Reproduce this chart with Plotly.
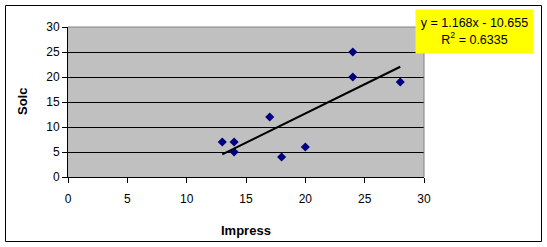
import numpy as np
import plotly.graph_objects as go

impress = [13, 14, 14, 17, 18, 20, 24, 24, 28]
solc = [7, 7, 5, 12, 4, 6, 25, 20, 19]
x_ticks = [0, 5, 10, 15, 20, 25, 30]
y_ticks = [0, 5, 10, 15, 20, 25, 30]

xa = np.array(impress, dtype=float)
ya = np.array(solc, dtype=float)
slope, intercept = np.polyfit(xa, ya, 1)
pred = slope * xa + intercept
r2 = 1 - ((ya - pred) ** 2).sum() / ((ya - ya.mean()) ** 2).sum()
tx = [xa.min(), xa.max()]
ty = [slope * v + intercept for v in tx]

L, R, T, B = 68, 424, 27, 177
W, H = 547, 247
pw, ph = R - L, B - T
def px(xp):
    return (xp - L) / pw
def py(yp):
    return (B - yp) / ph

fig = go.Figure()
fig.add_trace(go.Scatter(x=impress, y=solc, mode="markers",
                         marker=dict(symbol="diamond", size=7, color="#000080"),
                         showlegend=False))
fig.add_trace(go.Scatter(x=tx, y=ty, mode="lines",
                         line=dict(color="black", width=2), showlegend=False))

font = dict(family="Liberation Sans, Arial", size=12, color="black")
fig.update_layout(
    width=W, height=H,
    margin=dict(l=L, r=W - R, t=T, b=H - B, pad=0),
    paper_bgcolor="white", plot_bgcolor="#C0C0C0",
    font=font,
    xaxis=dict(range=[0, 30], tickvals=x_ticks, showgrid=False, zeroline=False,
               showline=True, linecolor="black", linewidth=1,
               ticks="outside", ticklen=5, tickcolor="black", tickfont=font,
               ticklabelstandoff=6),
    yaxis=dict(range=[0, 30], tickvals=y_ticks, showgrid=True, gridcolor="black",
               gridwidth=1, zeroline=False,
               showline=True, linecolor="black", linewidth=1,
               ticks="outside", ticklen=5, tickcolor="black", tickfont=font),
    shapes=[
        dict(type="line", xref="paper", yref="paper", x0=0, x1=1, y0=1, y1=1,
             line=dict(color="#808080", width=1)),
        dict(type="line", xref="paper", yref="paper", x0=1, x1=1, y0=0, y1=1,
             line=dict(color="#808080", width=1)),
        dict(type="rect", xref="paper", yref="paper",
             x0=px(5.5), x1=px(541.5), y0=py(241.5), y1=py(5.5),
             line=dict(color="black", width=1)),
    ],
    annotations=[
        dict(text=f"y = {slope:.3f}x - {abs(intercept):.3f}<br>R<sup>2</sup> = {r2:.4f}",
             xref="paper", yref="paper", x=px(474.5), y=py(31.5),
             xanchor="center", yanchor="middle", showarrow=False,
             bgcolor="#FFFF00", width=117, height=43, borderpad=0,
             font=dict(family="Liberation Sans, Arial", size=12.5, color="black")),
        dict(text="<b>Solc</b>", xref="paper", yref="paper", x=px(22), y=py(101),
             xanchor="center", yanchor="middle", showarrow=False, textangle=-90,
             font=dict(family="Liberation Sans, Arial", size=13, color="black")),
        dict(text="<b>Impress</b>", xref="paper", yref="paper", x=px(246), y=py(231),
             xanchor="center", yanchor="middle", showarrow=False,
             font=dict(family="Liberation Sans, Arial", size=13, color="black")),
    ],
)
fig.write_html("out.html")
